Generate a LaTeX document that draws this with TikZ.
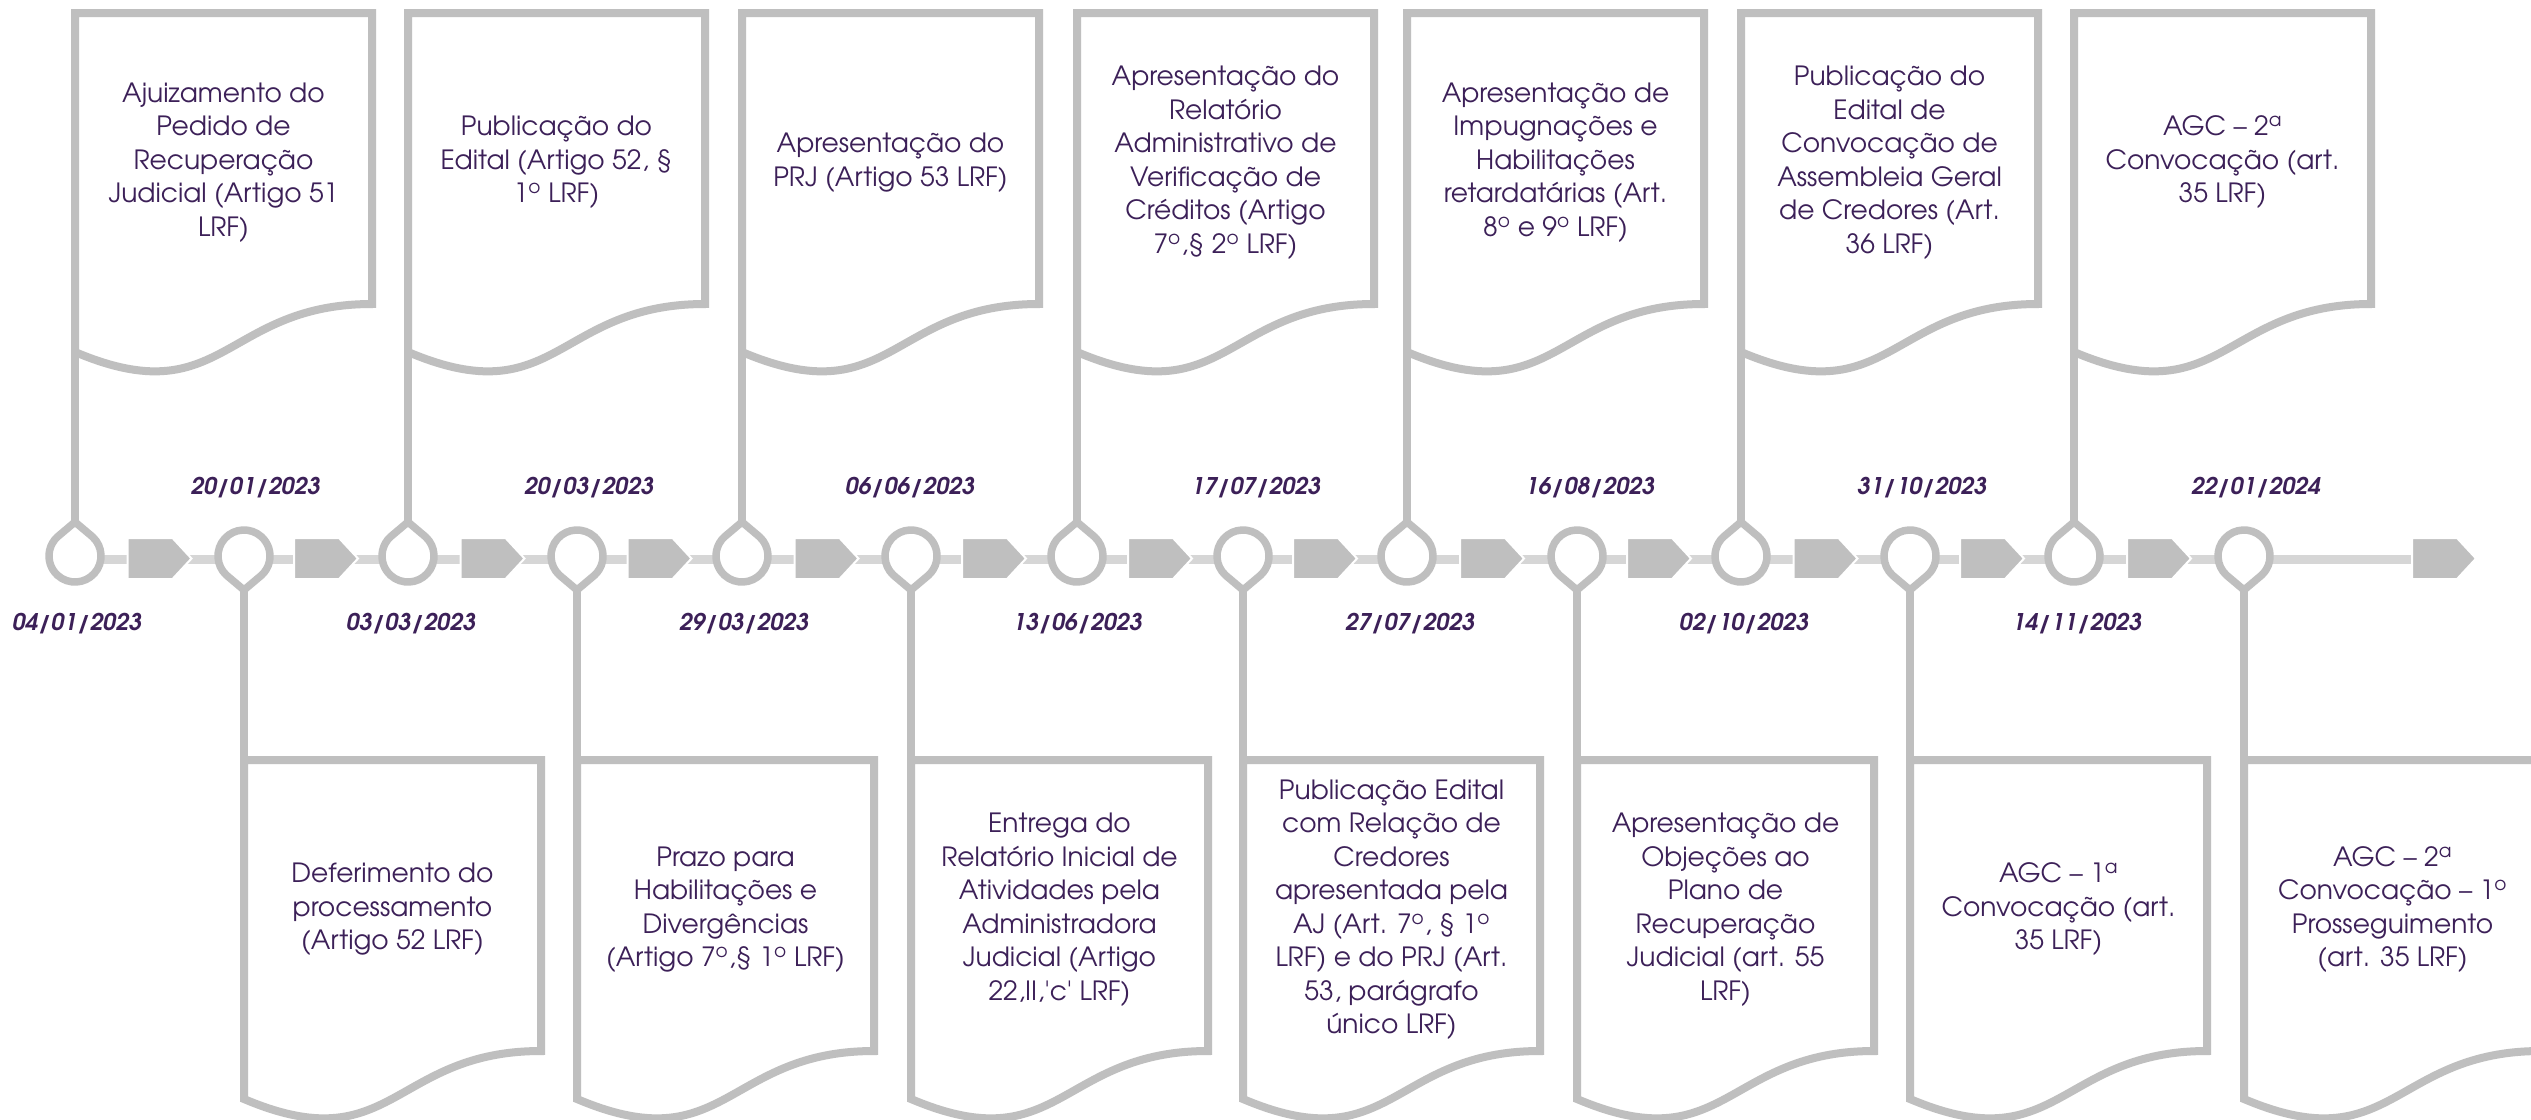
\documentclass[tikz,border=0pt]{standalone}
\usepackage{fontspec}
\setmainfont{texgyreadventor}[Extension=.otf, UprightFont=*-regular, BoldFont=*-bold, ItalicFont=*-italic, BoldItalicFont=*-bolditalic]
\definecolor{boxgray}{HTML}{BFBFBF}
\definecolor{linegray}{HTML}{D6D6D6}
\definecolor{txtpurple}{HTML}{3C2058}
\newcommand\ordo{\textsuperscript{o}}
\newcommand\orda{\textsuperscript{a}}
\tikzset{
  docshape/.style={draw=boxgray, line width=8pt, fill=white, line join=miter},
  pinshape/.style={draw=boxgray, line width=7.5pt, fill=white, line join=miter, miter limit=10},
  stemline/.style={draw=boxgray, line width=8pt},
  tline/.style={draw=linegray, line width=9pt},
  arrowblock/.style={fill=boxgray, draw=white, line width=2pt},
  boxtext/.style={text=txtpurple, align=center, font=\fontsize{26.5}{33.5}\selectfont, inner sep=0pt},
  datetext/.style={text=txtpurple, font=\fontsize{23}{28}\selectfont\bfseries\itshape, inner sep=0pt, anchor=base},
}
\newcommand\DocBox[4]{%
  \begin{scope}[shift={(#2,#3)}]
    \draw[docshape] (0,0) -- (297,0) -- (297,291) .. controls (148.5,291) and (148.5,402) .. (0,339) -- cycle;
    \node[boxtext] (#1) at (148.5,149.5) {#4};
    \coordinate (#1-head) at (0,0);
    \coordinate (#1-foot) at (0,339);
  \end{scope}}
\newcommand\PinUp[2]{%
  \begin{scope}[shift={(#2,556)}]
    \draw[pinshape] (0,-34) -- (-48:26) arc[start angle=-48, end angle=228, radius=26] -- cycle;
    \coordinate (#1) at (0,0);
    \coordinate (#1-tip) at (0,-34);
  \end{scope}}
\newcommand\PinDown[2]{%
  \begin{scope}[shift={(#2,556)}]
    \draw[pinshape] (0,34) -- (132:26) arc[start angle=132, end angle=408, radius=26] -- cycle;
    \coordinate (#1) at (0,0);
    \coordinate (#1-tip) at (0,34);
  \end{scope}}
\newcommand\ArrowBlk[1]{%
  \path[arrowblock] (#1,538) -- ++(45,0) -- ++(19,20.5) -- ++(-19,20.5) -- ++(-45,0) -- cycle;}
\begin{document}
\begin{tikzpicture}[x=1pt, y=1pt, yscale=-1]
\useasboundingbox (0,0) rectangle (2531,1119);
\clip (0,0) rectangle (2531,1119);
\fill[white] (0,0) rectangle (2531,1119);

% timeline
\coordinate (tlstart) at (75,559);
\coordinate (tlend) at (2412,559);
\draw[tline] (tlstart) -- (tlend);

% top boxes
\DocBox{t1}{75}{13}{Ajuizamento do\\Pedido de\\Recuperação\\Judicial (Artigo 51\\LRF)}
\DocBox{t2}{408}{13}{Publicação do\\Edital (Artigo 52, §\\1\ordo{} LRF)}
\DocBox{t3}{742}{13}{Apresentação do\\PRJ (Artigo 53 LRF)}
\DocBox{t4}{1077}{13}{Apresentação do\\Relatório\\Administrativo de\\Verificação de\\Créditos (Artigo\\7\ordo,§ 2\ordo{} LRF)}
\DocBox{t5}{1407}{13}{Apresentação de\\Impugnações e\\Habilitações\\retardatárias (Art.\\8\ordo{} e 9\ordo{} LRF)}
\DocBox{t6}{1741}{13}{Publicação do\\Edital de\\Convocação de\\Assembleia Geral\\de Credores (Art.\\36 LRF)}
\DocBox{t7}{2074}{13}{AGC – 2\orda\\Convocação (art.\\35 LRF)}

% bottom boxes
\DocBox{b1}{244}{760}{Deferimento do\\processamento\\(Artigo 52 LRF)}
\DocBox{b2}{577}{760}{Prazo para\\Habilitações e\\Divergências\\(Artigo 7\ordo,§ 1\ordo{} LRF)}
\DocBox{b3}{911}{760}{Entrega do\\Relatório Inicial de\\Atividades pela\\Administradora\\Judicial (Artigo\\22,II,\textquotesingle c\textquotesingle{} LRF)}
\DocBox{b4}{1243}{760}{Publicação Edital\\com Relação de\\Credores\\apresentada pela\\AJ (Art. 7\ordo, § 1\ordo\\LRF) e do PRJ (Art.\\53, parágrafo\\único LRF)}
\DocBox{b5}{1577}{760}{Apresentação de\\Objeções ao\\Plano de\\Recuperação\\Judicial (art. 55\\LRF)}
\DocBox{b6}{1910}{760}{AGC – 1\orda\\Convocação (art.\\35 LRF)}
\DocBox{b7}{2244}{760}{AGC – 2\orda\\Convocação – 1\ordo\\Prosseguimento\\(art. 35 LRF)}

% pins
\PinUp{u1}{75}
\PinUp{u2}{408}
\PinUp{u3}{742}
\PinUp{u4}{1077}
\PinUp{u5}{1407}
\PinUp{u6}{1741}
\PinUp{u7}{2074}
\PinDown{d1}{244}
\PinDown{d2}{577}
\PinDown{d3}{911}
\PinDown{d4}{1243}
\PinDown{d5}{1577}
\PinDown{d6}{1910}
\PinDown{d7}{2244}

% stems
\foreach \i in {1,...,7} {
  \draw[stemline] (t\i-foot) -- (u\i-tip);
  \draw[stemline] (d\i-tip) -- (b\i-head);
}

% arrow blocks
\foreach \xa in {127.5,294,460.5,627.5,794.5,962,1128,1293,1460,1627,1793.5,1960,2127,2412} {
  \ArrowBlk{\xa}
}

% dates
\node[datetext] (du1) at (77,630) {04/01/2023};
\node[datetext] (du2) at (411,630) {03/03/2023};
\node[datetext] (du3) at (744,630) {29/03/2023};
\node[datetext] (du4) at (1077.5,630) {13/06/2023};
\node[datetext] (du5) at (1410,630) {27/07/2023};
\node[datetext] (du6) at (1744,630) {02/10/2023};
\node[datetext] (du7) at (2077,630) {14/11/2023};
\node[datetext] (dd1) at (255.5,494) {20/01/2023};
\node[datetext] (dd2) at (589,494) {20/03/2023};
\node[datetext] (dd3) at (910,494) {06/06/2023};
\node[datetext] (dd4) at (1256,494) {17/07/2023};
\node[datetext] (dd5) at (1590,494) {16/08/2023};
\node[datetext] (dd6) at (1922,494) {31/10/2023};
\node[datetext] (dd7) at (2256,494) {22/01/2024};
\end{tikzpicture}
\end{document}
